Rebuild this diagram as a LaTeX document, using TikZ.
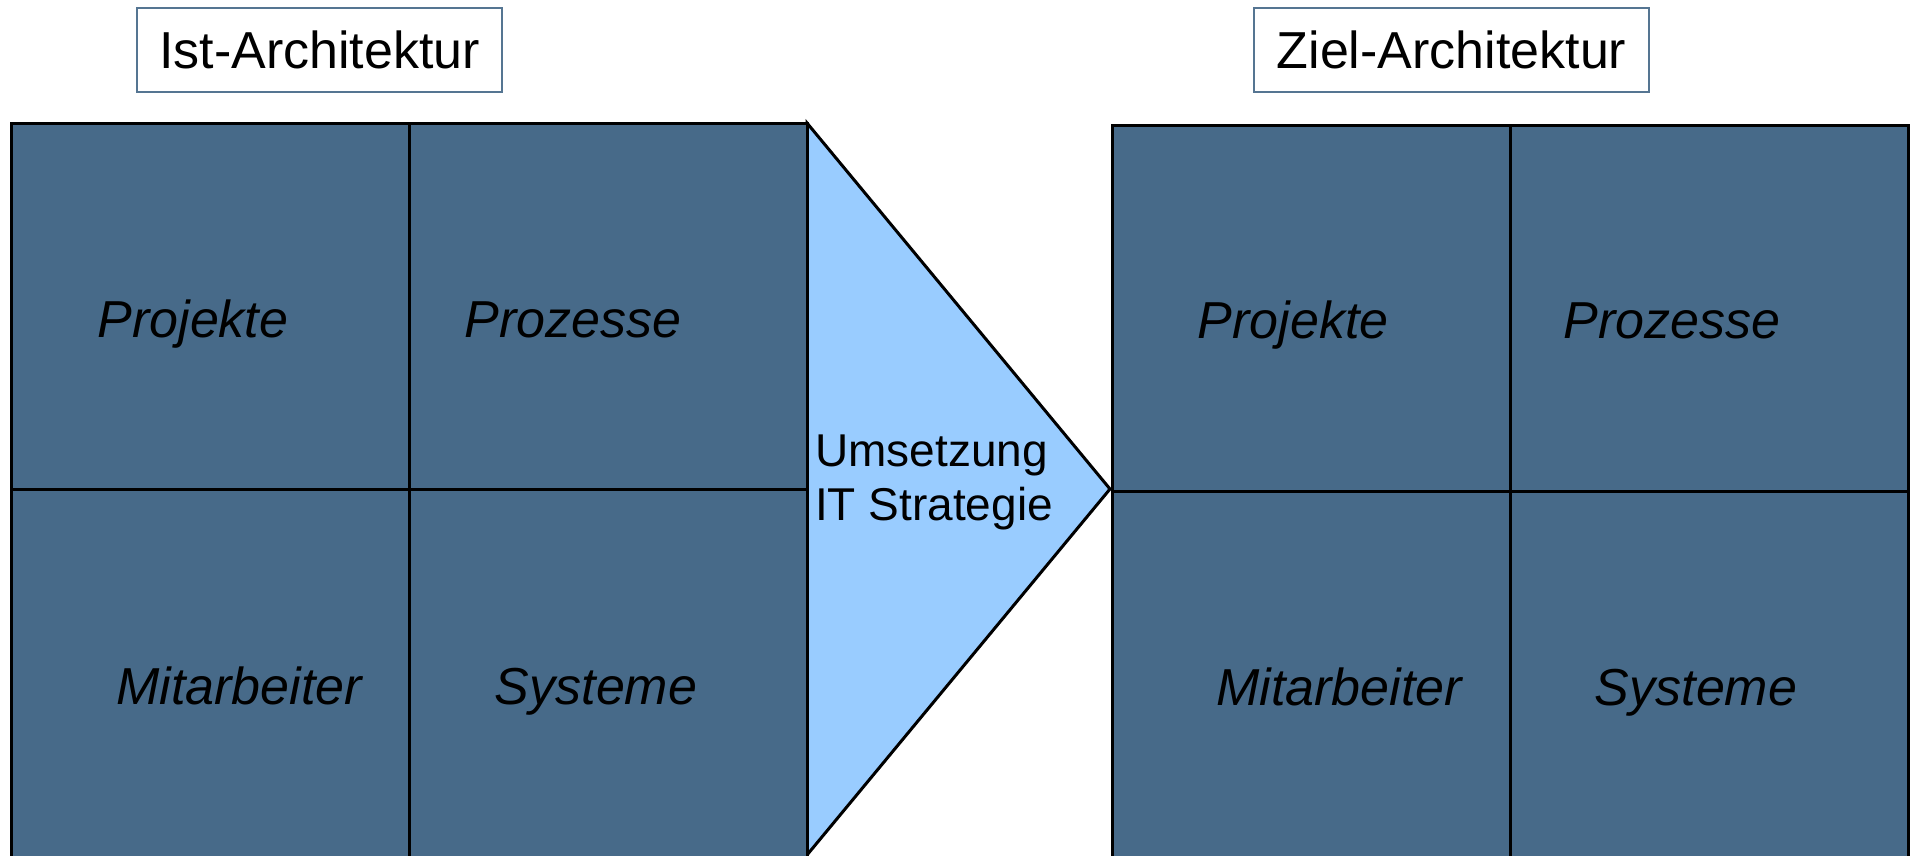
\documentclass[tikz,border=0pt]{standalone}
\usepackage{fontspec}
\setmainfont{Liberation Sans}
\begin{document}
\begin{tikzpicture}[x=1pt,y=-1pt,
  cellfill/.style={fill=gridblue, draw=black, line width=3pt},
  arrowshape/.style={fill=lightblue, draw=black, line width=3pt, line join=miter},
  titlebox/.style={draw=framegrey, line width=1.8pt, fill=white, inner sep=0pt,
    minimum height=84pt, font=\fontsize{52}{60}\selectfont},
  celltext/.style={anchor=base, inner sep=0pt, font=\fontsize{52}{60}\selectfont\itshape},
  arrowtext/.style={anchor=base west, inner sep=0pt, font=\fontsize{46}{54}\selectfont}
]
\definecolor{gridblue}{HTML}{476A89}
\definecolor{lightblue}{HTML}{99CCFF}
\definecolor{framegrey}{HTML}{557592}
\useasboundingbox (0,0) rectangle (1912,855);
\clip (0,0) rectangle (1912,855);

% transition arrow
\draw[arrowshape] (807,123) -- (1110,489) -- (807,855) -- cycle;

% left grid (Ist)
\draw[cellfill] (11,123) rectangle (409,489);
\draw[cellfill] (409,123) rectangle (807,489);
\draw[cellfill] (11,489) rectangle (409,900);
\draw[cellfill] (409,489) rectangle (807,900);

% right grid (Ziel)
\draw[cellfill] (1112,125) rectangle (1510,491);
\draw[cellfill] (1510,125) rectangle (1908,491);
\draw[cellfill] (1112,491) rectangle (1510,900);
\draw[cellfill] (1510,491) rectangle (1908,900);

% titles
\node[titlebox, minimum width=365pt] (ist) at (319.5,50) {Ist-Architektur};
\node[titlebox, minimum width=395pt] (ziel) at (1451.5,50) {Ziel-Architektur};

% cell labels left
\node[celltext] (lproj) at (193,337) {Projekte};
\node[celltext] (lproz) at (573,337) {Prozesse};
\node[celltext] (lmit) at (239,704) {Mitarbeiter};
\node[celltext] (lsys) at (596,704) {Systeme};

% cell labels right
\node[celltext] (rproj) at (1293,338) {Projekte};
\node[celltext] (rproz) at (1672,338) {Prozesse};
\node[celltext] (rmit) at (1339,705) {Mitarbeiter};
\node[celltext] (rsys) at (1696,705) {Systeme};

% arrow text
\node[arrowtext] (ums1) at (815,466) {Umsetzung};
\node[arrowtext] (ums2) at (815,520) {IT Strategie};
\end{tikzpicture}
\end{document}
